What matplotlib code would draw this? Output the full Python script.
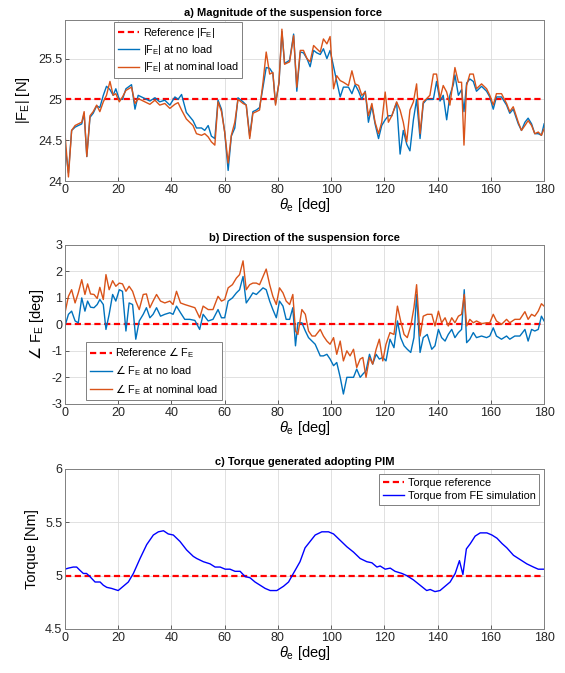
import matplotlib
matplotlib.use('Agg')
import matplotlib.pyplot as plt
import numpy as np

plt.rcParams['font.family'] = ['Liberation Sans', 'DejaVu Sans']
plt.rcParams['mathtext.fontset'] = 'custom'
plt.rcParams['mathtext.rm'] = 'Liberation Sans'
plt.rcParams['mathtext.it'] = 'Liberation Sans:italic'
plt.rcParams['mathtext.sf'] = 'DejaVu Sans'
plt.rcParams['axes.unicode_minus'] = False

# a) magnitude of the suspension force [N]
theta_a = [0, 1.3, 2.5, 3.8, 5, 6.3, 7.2, 8.2, 9.4, 10.6, 11.9, 13.1, 14.4, 15.6, 16.9,
           18.1, 19.1, 20.4, 21.6, 22.9, 25, 26.3, 27.5, 29.4, 31.9, 33.8, 35.6, 37.5,
           39.4, 41.3, 42.5, 43.8, 45.6, 48.1, 49.4, 51.3, 52.5, 53.8, 55, 56.3, 57.5,
           58.8, 60, 61.3, 62.5, 63.8, 65, 66.9, 68.1, 69.4, 70.6, 71.9, 73.1, 74.4,
           75.6, 76.9, 78.1, 79.1, 80.4, 81.5, 82.5, 84.4, 85.9, 87.1, 88.4, 89.6, 90.9,
           92.1, 93.4, 94.6, 95.9, 97.1, 98.4, 99.6, 100.9, 102.1, 103.4, 104.6, 106.5,
           107.8, 109, 110.3, 111.5, 112.8, 114, 115.3, 116.5, 117.8, 119, 120.3, 121.5,
           122.8, 124.6, 125.9, 127.1, 128.4, 129.6, 130.9, 132.1, 133.4, 134.6, 135.9,
           137.1, 138.4, 139.6, 140.9, 142.1, 143.4, 144.6, 145.9, 146.5, 147.8, 149,
           149.9, 150.9, 152.1, 153.4, 154.6, 156.5, 158.4, 159.6, 160.9, 162.1, 164,
           165.9, 167.1, 168.4, 170.3, 171.5, 172.8, 174, 175.3, 176.5, 177.8, 179, 180]
fe_nominal = [24.58, 24.05, 24.62, 24.68, 24.70, 24.72, 24.85, 24.30, 24.80, 24.85, 24.93,
              24.85, 24.97, 25.05, 25.22, 25.05, 25.07, 24.97, 25.03, 25.11, 25.15, 24.95,
              25.01, 24.98, 24.94, 24.99, 24.93, 24.95, 24.89, 24.94, 24.96, 24.87, 24.76,
              24.68, 24.58, 24.56, 24.58, 24.54, 24.48, 24.44, 24.97, 24.85, 24.60, 24.22,
              24.56, 24.72, 25.00, 24.95, 24.93, 24.52, 24.83, 24.85, 24.87, 25.21, 25.58,
              25.31, 25.33, 24.93, 25.21, 25.86, 25.43, 25.46, 25.78, 25.15, 25.60, 25.60,
              25.50, 25.46, 25.66, 25.62, 25.58, 25.74, 25.68, 25.77, 25.13, 25.29, 25.23,
              25.21, 25.17, 25.35, 25.19, 25.17, 25.05, 25.09, 24.80, 24.95, 24.72, 24.58,
              24.72, 25.09, 24.72, 24.80, 24.97, 24.87, 24.72, 24.48, 24.87, 24.97, 25.19,
              24.58, 24.97, 25.01, 25.05, 25.31, 25.31, 25.01, 25.17, 25.09, 24.93, 25.25,
              25.39, 25.21, 25.21, 24.44, 25.17, 25.31, 25.31, 25.13, 25.19, 25.13, 25.05,
              24.93, 25.07, 25.07, 24.95, 24.85, 24.91, 24.72, 24.62, 24.68, 24.74, 24.68,
              24.58, 24.60, 24.56, 24.64]
fe_noload = [24.45, 24.10, 24.62, 24.66, 24.68, 24.70, 24.83, 24.30, 24.78, 24.83, 24.92,
             24.90, 25.05, 25.16, 25.12, 25.05, 25.13, 25.00, 25.00, 25.13, 25.18, 24.88,
             25.05, 25.02, 24.98, 25.02, 24.97, 24.99, 24.93, 25.03, 25.00, 25.06, 24.84,
             24.74, 24.65, 24.65, 24.62, 24.68, 24.55, 24.52, 24.99, 24.88, 24.60, 24.13,
             24.55, 24.65, 25.02, 24.97, 24.93, 24.55, 24.85, 24.87, 24.90, 25.15, 25.39,
             25.38, 25.32, 24.95, 25.20, 25.83, 25.44, 25.48, 25.80, 25.10, 25.58, 25.57,
             25.50, 25.40, 25.60, 25.57, 25.55, 25.62, 25.50, 25.60, 25.40, 25.22, 25.03,
             25.15, 25.15, 25.07, 25.18, 25.10, 25.00, 25.10, 24.72, 24.92, 24.70, 24.52,
             24.68, 24.75, 24.80, 24.80, 24.96, 24.33, 24.62, 24.45, 24.37, 24.75, 25.00,
             24.52, 24.95, 25.00, 25.00, 25.00, 25.22, 24.98, 25.05, 24.75, 25.05, 25.18,
             25.30, 25.05, 25.12, 24.85, 25.20, 25.25, 25.22, 25.10, 25.16, 25.10, 25.03,
             24.88, 25.03, 25.03, 24.93, 24.83, 24.88, 24.70, 24.62, 24.72, 24.77, 24.70,
             24.58, 24.58, 24.56, 24.70]
fe_ref = 25

# b) direction of the suspension force [deg]
theta_b = [0, 1.3, 2.5, 3.8, 5, 6.3, 7.5, 8.5, 9.6, 10.9, 12.1, 13.1, 14.4, 15.4, 16.6,
           17.9, 19.1, 20.4, 21.6, 22.9, 24.1, 25.4, 26.6, 27.9, 29.4, 30.6, 31.9, 33.1,
           34.4, 35.9, 37.5, 39.4, 40.6, 41.9, 43.4, 45, 46.9, 48.8, 50.6, 51.9, 53.8,
           55.6, 57.5, 58.8, 60, 61.3, 62.9, 64.4, 65.6, 66.9, 68.1, 69.4, 70.6, 71.9,
           73.1, 74.4, 75.6, 76.9, 78.1, 79.4, 80.6, 81.9, 83.1, 84.4, 85.6, 86.6, 87.5,
           89, 90.3, 91.5, 92.8, 94, 95.9, 97.1, 98.4, 99.6, 100.9, 102.1, 103.4, 104.6,
           105.9, 107.1, 108.4, 109.6, 110.9, 111.9, 113.1, 114.4, 115.6, 116.9, 118.1,
           119.4, 120.6, 122.1, 123.6, 124.9, 126.1, 127.4, 128.6, 129.9, 131.1, 132.1,
           133.4, 134.6, 136.1, 137.8, 139, 140.3, 141.5, 142.8, 144, 145.3, 146.5, 147.8,
           149, 150, 150.9, 152.1, 153.4, 154.6, 156.5, 158.4, 159.6, 160.9, 162.1, 164,
           165.9, 167.1, 169, 170.9, 172.8, 174, 175.3, 176.5, 177.8, 179, 180]
ang_nominal = [0.44, 1.06, 1.31, 0.81, 1.19, 1.69, 1.13, 1.53, 1.15, 1.13, 0.98, 1.40,
               0.94, 1.88, 1.31, 1.65, 1.44, 1.56, 1.53, 1.25, 1.44, 1.25, 0.88, 0.56,
               1.13, 1.15, 0.63, 0.88, 1.13, 0.88, 0.81, 0.88, 0.75, 1.25, 0.81, 0.75,
               0.69, 0.63, 0.25, 0.69, 0.56, 0.56, 1.06, 0.88, 0.94, 1.38, 1.50, 1.75,
               1.88, 2.40, 1.31, 1.50, 1.56, 1.56, 1.50, 1.81, 2.09, 1.50, 1.06, 0.75,
               1.38, 1.19, 0.88, 0.75, 1.13, -0.25, -0.38, 0.56, 0.38, -0.25, -0.44,
               -0.44, -0.19, -0.44, -0.63, -0.75, -0.50, -1.13, -0.63, -1.38, -1.00,
               -1.19, -0.94, -1.63, -1.31, -1.25, -2.00, -1.25, -1.50, -0.94, -0.56,
               -1.38, -0.75, -0.31, -0.38, 0.69, 0.13, -0.38, -0.50, -0.06, 0.63, 1.50,
               -0.44, 0.31, 0.38, 0.38, -0.06, 0.50, 0.06, 0.25, -0.06, 0.25, 0.06, 0.31,
               0.38, 1.13, -0.06, 0.19, 0.06, 0.13, 0.03, 0.06, 0.06, 0.38, 0.13, 0.00,
               0.19, 0.06, 0.19, 0.19, 0.48, 0.19, 0.38, 0.31, 0.50, 0.78, 0.69]
ang_noload = [-0.06, 0.38, 0.50, 0.13, 0.06, 1.00, 0.50, 0.88, 0.65, 0.63, 0.75, 0.94,
              0.75, -0.19, 0.38, 1.13, 0.88, 1.31, 1.25, -0.25, 0.81, 0.75, -0.56, 0.13,
              0.38, 0.63, 0.25, 0.38, 0.63, 0.31, 0.38, 0.44, 0.38, 0.69, 0.44, 0.19,
              0.19, 0.15, -0.19, 0.38, 0.13, 0.19, 0.56, 0.25, 0.25, 0.88, 1.00, 1.19,
              1.31, 1.81, 0.81, 1.00, 1.19, 1.13, 1.25, 1.38, 1.31, 0.88, 0.56, 0.25,
              0.88, 0.69, 0.19, 0.19, 0.63, -0.81, 0.06, 0.06, -0.25, -0.50, -0.63,
              -0.75, -1.19, -1.19, -1.13, -1.31, -1.56, -1.44, -2.00, -2.63, -2.00,
              -2.00, -2.00, -1.69, -2.00, -1.88, -1.75, -1.13, -1.50, -1.13, -1.31,
              -1.25, -1.38, -0.56, -0.88, 0.13, -0.50, -0.81, -0.94, -1.06, -0.50, 1.13,
              -1.06, -0.50, -0.38, -0.94, -0.81, -0.19, -0.50, -0.63, -0.38, -0.19, -0.50,
              -0.31, -0.19, 1.31, -0.69, -0.56, -0.31, -0.50, -0.44, -0.50, -0.44, -0.13,
              -0.44, -0.56, -0.44, -0.56, -0.44, -0.44, -0.19, -0.63, -0.19, -0.25, -0.19,
              0.31, 0.13]
ang_ref = 0

# c) torque generated adopting PIM [Nm]
theta_c = [0, 1.3, 3.1, 4.4, 5.6, 6.9, 8.1, 9.4, 11.3, 13.2, 14.4, 15.7, 17.5, 20, 21.9,
           23.8, 25.7, 28.2, 30.7, 33.2, 35.1, 37, 38.8, 40.7, 43.2, 45.7, 48.2, 49.5, 52,
           54.5, 56.4, 58.3, 60.2, 62, 63.9, 65.8, 67.7, 69.5, 71.4, 73.3, 75.2, 77.1,
           79.6, 82.1, 84, 85.8, 88.3, 90.2, 92.1, 94, 96.5, 99, 100.9, 103.4, 105.9,
           108.4, 110.9, 113.4, 115.3, 117.2, 118.4, 120.3, 122.2, 124, 126.6, 128.4,
           130.9, 133.4, 135.9, 137.2, 139, 140.9, 142.8, 144.7, 146.6, 148.2, 149.5,
           150.8, 152.3, 154.1, 156, 158.5, 160.4, 162.3, 164.2, 166, 168.5, 171, 173.5,
           176, 177.8, 180]
torque = [5.06, 5.07, 5.08, 5.08, 5.05, 5.02, 5.02, 4.99, 4.94, 4.94, 4.91, 4.89, 4.88,
          4.86, 4.90, 4.94, 5.02, 5.16, 5.29, 5.38, 5.41, 5.42, 5.39, 5.38, 5.32, 5.24,
          5.18, 5.16, 5.13, 5.11, 5.08, 5.08, 5.06, 5.06, 5.04, 5.04, 4.99, 4.98, 4.94,
          4.91, 4.88, 4.86, 4.86, 4.90, 4.94, 5.02, 5.13, 5.26, 5.32, 5.38, 5.41, 5.41,
          5.39, 5.33, 5.27, 5.22, 5.16, 5.13, 5.12, 5.08, 5.09, 5.06, 5.07, 5.04, 5.02,
          5.00, 4.96, 4.91, 4.86, 4.87, 4.85, 4.86, 4.90, 4.94, 5.02, 5.14, 5.01, 5.25,
          5.30, 5.37, 5.40, 5.40, 5.38, 5.35, 5.30, 5.26, 5.19, 5.15, 5.11, 5.08, 5.06,
          5.06]
torque_ref = 5

xticks = np.arange(0, 181, 20)
c_noload = '#0072BD'
c_nominal = '#D95319'
c_edge = '#262626'
tick_fs = 9
lab_fs = 10.5
ang = r'$\mathsf{\angle}$'
ref_style = dict(color='red', lw=1.6, dashes=(2.8, 1.6))


def style(ax, ylim, yticks):
    ax.set_xlim(0, 180)
    ax.set_ylim(*ylim)
    ax.set_xticks(xticks)
    ax.set_yticks(yticks)
    ax.grid(True, color='#dcdcdc', linewidth=0.6)
    ax.set_axisbelow(True)
    ax.tick_params(direction='in', length=3, width=0.5, labelsize=tick_fs,
                   colors=c_edge, top=False, right=False, pad=2)
    for s in ax.spines.values():
        s.set_color('#808080')
        s.set_linewidth(0.7)
    ax.set_xlabel(r'$\theta_{\rm e}$ [deg]', fontsize=lab_fs, labelpad=0)


def legend(ax, **kw):
    leg = ax.legend(fontsize=7.8, fancybox=False, framealpha=1, edgecolor='#808080',
                    handlelength=2.0, handletextpad=0.3, borderpad=0.35,
                    labelspacing=0.3, borderaxespad=0, **kw)
    leg.get_frame().set_linewidth(0.7)
    return leg


fig = plt.figure(figsize=(5.65, 6.73), dpi=100)

ax1 = fig.add_axes([0.115, 0.731, 0.848, 0.239])
ax1.plot([0, 180], [fe_ref, fe_ref], label=r'Reference |F$_{\rm E}$|', **ref_style)
ax1.plot(theta_a, fe_noload, color=c_noload, lw=1.0, label=r'|F$_{\rm E}$| at no load')
ax1.plot(theta_a, fe_nominal, color=c_nominal, lw=1.0, label=r'|F$_{\rm E}$| at nominal load')
style(ax1, (24, 25.97), [24, 24.5, 25, 25.5])
ax1.set_yticklabels(['24', '24.5', '25', '25.5'])
ax1.set_ylabel(r'|F$_{\rm E}$| [N]', fontsize=lab_fs, labelpad=4)
ax1.set_title('a) Magnitude of the suspension force', fontsize=8, fontweight='bold',
              pad=3, x=0.455)
legend(ax1, loc='upper left', bbox_to_anchor=(0.102, 0.988))

ax2 = fig.add_axes([0.115, 0.400, 0.848, 0.236])
ax2.plot([0, 180], [ang_ref, ang_ref], label='Reference ' + ang + r' F$_{\rm E}$', **ref_style)
ax2.plot(theta_b, ang_noload, color=c_noload, lw=1.0, label=ang + r' F$_{\rm E}$ at no load')
ax2.plot(theta_b, ang_nominal, color=c_nominal, lw=1.0, label=ang + r' F$_{\rm E}$ at nominal load')
style(ax2, (-3, 3), np.arange(-3, 4, 1))
ax2.set_ylabel(ang + r' F$_{\rm E}$ [deg]', fontsize=lab_fs, labelpad=4)
ax2.set_title('b) Direction of the suspension force', fontsize=8, fontweight='bold', pad=3)
legend(ax2, loc='upper left', bbox_to_anchor=(0.044, 0.39))

ax3 = fig.add_axes([0.115, 0.0654, 0.848, 0.238])
ax3.plot([0, 180], [torque_ref, torque_ref], label='Torque reference', **ref_style)
ax3.plot(theta_c, torque, color='#0000FF', lw=1.0, label='Torque from FE simulation')
style(ax3, (4.5, 6), [4.5, 5, 5.5, 6])
ax3.set_yticklabels(['4.5', '5', '5.5', '6'])
ax3.set_ylabel('Torque [Nm]', fontsize=lab_fs, labelpad=4)
ax3.set_title('c) Torque generated adopting PIM', fontsize=8, fontweight='bold', pad=3)
legend(ax3, loc='upper right', bbox_to_anchor=(0.99, 0.969))

fig.savefig('out.png', dpi=100)
